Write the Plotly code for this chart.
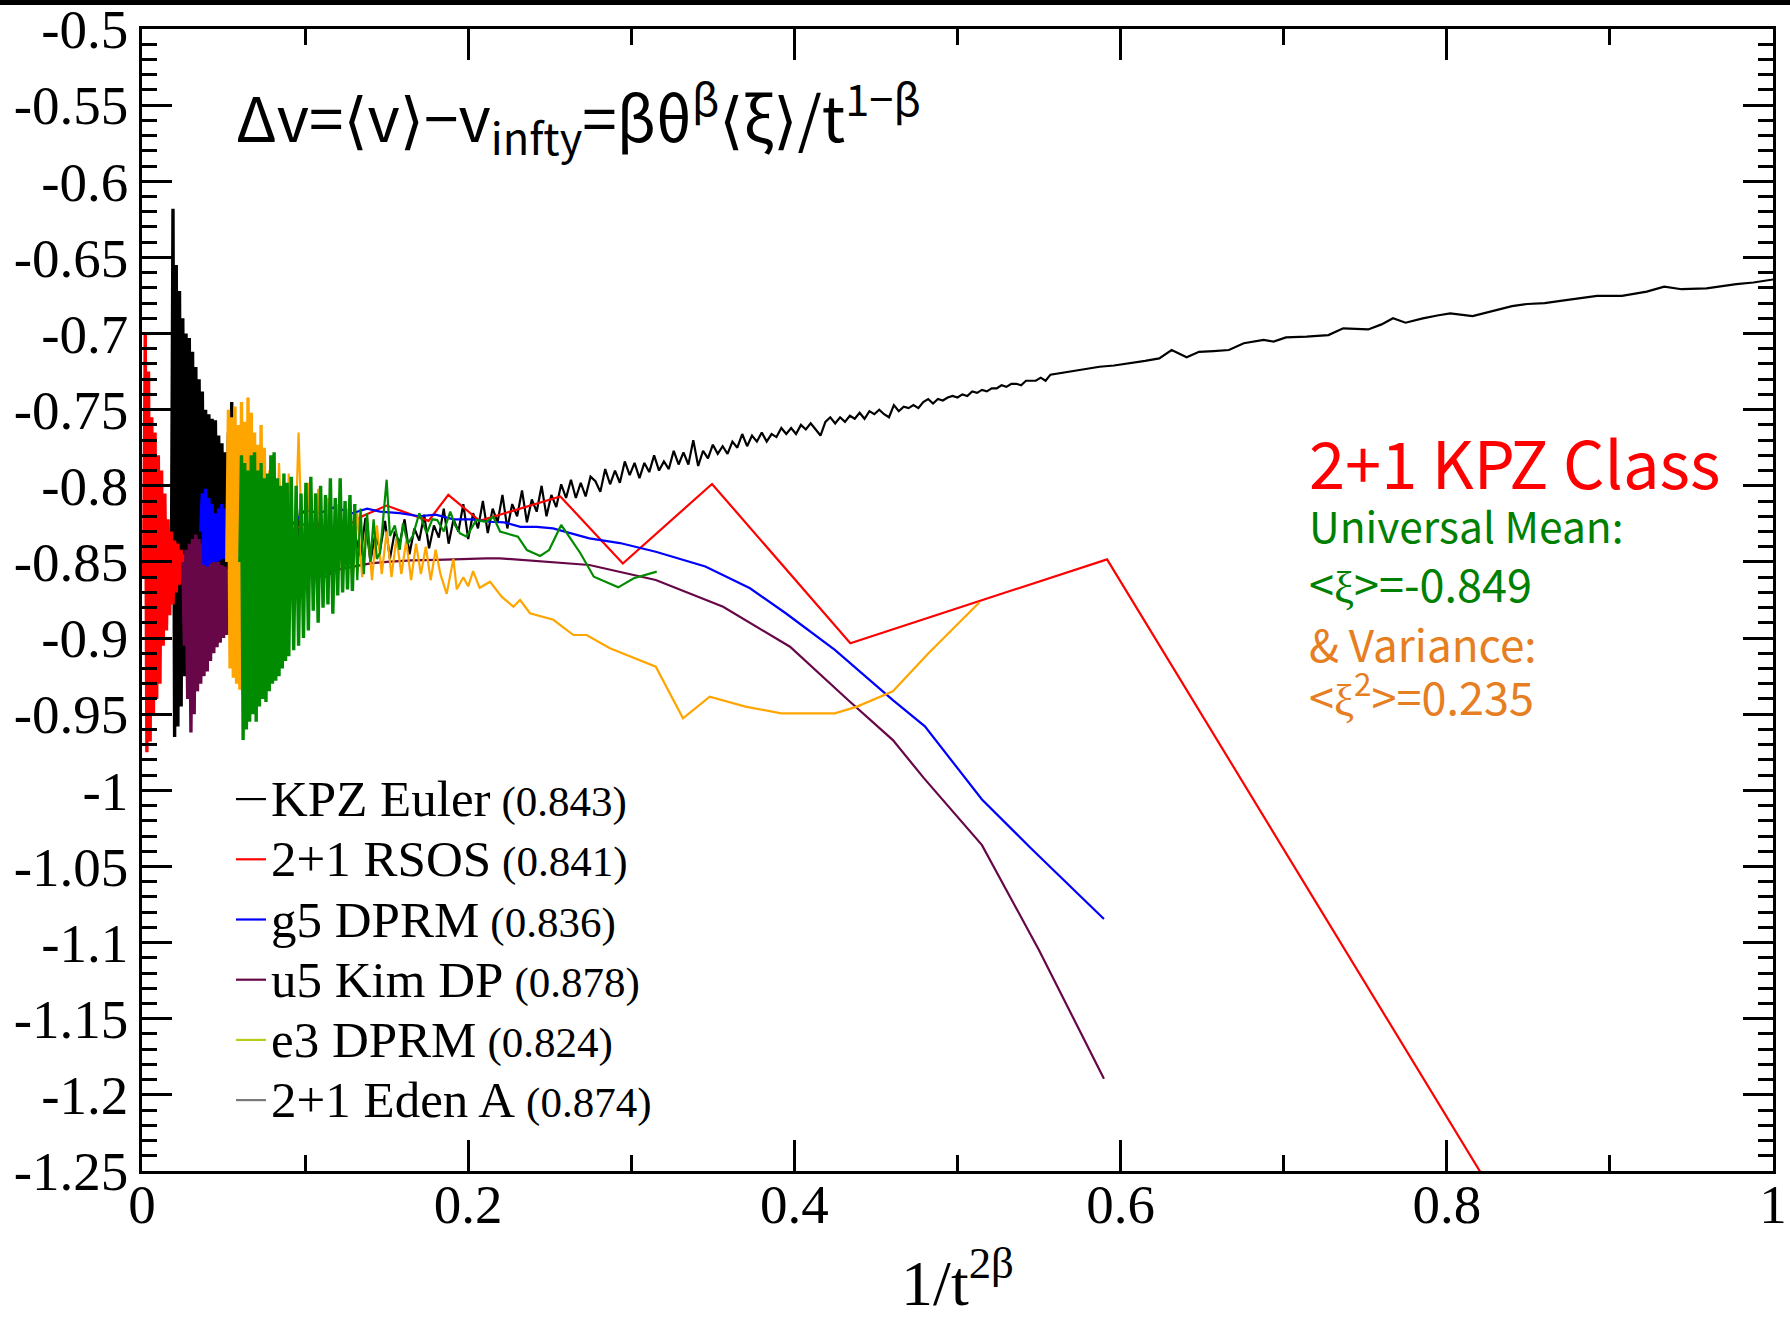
import plotly.graph_objects as go

# ---------------- data ----------------
x_tick_vals = [0, 0.2, 0.4, 0.6, 0.8, 1.0]
x_tick_text = ["0", "0.2", "0.4", "0.6", "0.8", "1"]
y_tick_vals = [-1.25, -1.2, -1.15, -1.1, -1.05, -1.0, -0.95, -0.9, -0.85, -0.8,
               -0.75, -0.7, -0.65, -0.6, -0.55, -0.5]
y_tick_text = ["-1.25", "-1.2", "-1.15", "-1.1", "-1.05", "-1", "-0.95", "-0.9",
               "-0.85", "-0.8", "-0.75", "-0.7", "-0.65", "-0.6", "-0.55", "-0.5"]

series_names = ["KPZ Euler", "2+1 RSOS", "g5 DPRM", "u5 Kim DP", "e3 DPRM", "2+1 Eden A"]
series_exponents = ["(0.843)", "(0.841)", "(0.836)", "(0.878)", "(0.824)", "(0.874)"]

# KPZ Euler (black)
euler_x = [0.018, 0.019, 0.020, 0.021, 0.022, 0.023, 0.024, 0.025, 0.026, 0.027,
           0.028, 0.029, 0.030, 0.031, 0.032, 0.033, 0.034, 0.035, 0.036, 0.037,
           0.038, 0.039, 0.040, 0.041, 0.042, 0.043, 0.044, 0.045, 0.046, 0.047,
           0.048, 0.049, 0.050, 0.051, 0.052, 0.053, 0.054, 0.055, 0.056,
           0.059, 0.062, 0.065, 0.068, 0.071, 0.074, 0.077, 0.080, 0.083, 0.086,
           0.089, 0.092, 0.095, 0.098, 0.101, 0.104, 0.107, 0.110, 0.113, 0.116,
           0.119, 0.122, 0.125, 0.128, 0.131, 0.134, 0.137, 0.140, 0.143, 0.146,
           0.149, 0.152, 0.155, 0.158, 0.161, 0.164, 0.167, 0.170, 0.173, 0.176,
           0.179, 0.182, 0.185, 0.188, 0.191, 0.194, 0.197, 0.200, 0.203, 0.206,
           0.209, 0.212, 0.215, 0.218, 0.221, 0.224, 0.227, 0.230, 0.233, 0.236,
           0.239, 0.242, 0.245, 0.248, 0.251,
           0.254, 0.257, 0.260, 0.263, 0.266, 0.269, 0.272, 0.275, 0.278, 0.281,
           0.284, 0.287, 0.290, 0.293, 0.296, 0.299, 0.302, 0.305, 0.308, 0.311,
           0.314, 0.317, 0.320, 0.323, 0.326, 0.329, 0.332, 0.335, 0.338, 0.341,
           0.344, 0.347, 0.350, 0.353, 0.356, 0.359, 0.362, 0.365, 0.368, 0.371,
           0.374, 0.377, 0.380, 0.383, 0.386, 0.389, 0.392, 0.395, 0.398, 0.401,
           0.404, 0.407, 0.410, 0.413, 0.416, 0.419, 0.422, 0.425, 0.428, 0.431,
           0.434, 0.437, 0.440, 0.443, 0.446, 0.449, 0.452, 0.455, 0.458, 0.461,
           0.464, 0.467, 0.470, 0.473, 0.476, 0.479, 0.482, 0.485, 0.488, 0.491,
           0.494, 0.497, 0.500, 0.503, 0.506, 0.509, 0.512, 0.515, 0.518, 0.521,
           0.524, 0.527, 0.530, 0.533, 0.536, 0.539, 0.542, 0.545, 0.548, 0.551,
           0.554, 0.557,
           0.5627, 0.575, 0.5871, 0.596, 0.6054, 0.615, 0.6237, 0.6313, 0.6405, 0.6481,
           0.657, 0.6664, 0.6755, 0.6877, 0.6938, 0.7014, 0.714, 0.7274, 0.7365, 0.7518,
           0.760, 0.767, 0.7747, 0.7853, 0.795, 0.8021, 0.8158, 0.8311, 0.840, 0.8494,
           0.860, 0.8708, 0.882, 0.8921, 0.9074, 0.915, 0.9226, 0.9333, 0.944, 0.9592,
           0.968, 0.9775, 0.988, 1.0]
euler_y = [-0.870, -0.618, -0.965, -0.655, -0.958, -0.672, -0.945, -0.690, -0.925, -0.700,
           -0.915, -0.703, -0.910, -0.712, -0.905, -0.722, -0.900, -0.730, -0.897, -0.738,
           -0.893, -0.750, -0.890, -0.753, -0.886, -0.756, -0.882, -0.757, -0.878, -0.767,
           -0.875, -0.772, -0.872, -0.778, -0.868, -0.765, -0.866, -0.745, -0.862,
           -0.800, -0.878, -0.812, -0.860, -0.805, -0.872, -0.830, -0.858, -0.812, -0.866,
           -0.825, -0.850, -0.815, -0.862, -0.828, -0.855, -0.818, -0.848, -0.830, -0.858,
           -0.822, -0.845, -0.826, -0.852, -0.834, -0.846, -0.821, -0.850, -0.832, -0.842,
           -0.823, -0.848, -0.830, -0.838, -0.822, -0.845, -0.828, -0.836, -0.819, -0.841,
           -0.826, -0.834, -0.815, -0.838, -0.822, -0.830, -0.812, -0.835, -0.818, -0.828,
           -0.810, -0.831, -0.815, -0.824, -0.806, -0.828, -0.812, -0.820, -0.803, -0.824,
           -0.809, -0.817, -0.800, -0.820, -0.806,
           -0.814, -0.799, -0.808, -0.796, -0.808, -0.798, -0.807, -0.794, -0.797, -0.804,
           -0.789, -0.799, -0.790, -0.798, -0.784, -0.793, -0.785, -0.795, -0.785, -0.791,
           -0.780, -0.790, -0.784, -0.789, -0.777, -0.786, -0.778, -0.786, -0.770, -0.787,
           -0.777, -0.782, -0.773, -0.779, -0.774, -0.779, -0.771, -0.775, -0.766, -0.774,
           -0.767, -0.771, -0.765, -0.771, -0.766, -0.768, -0.762, -0.766, -0.762, -0.766,
           -0.760, -0.763, -0.759, -0.763, -0.767, -0.758, -0.755, -0.759, -0.755, -0.758,
           -0.754, -0.756, -0.752, -0.756, -0.751, -0.753, -0.750, -0.753, -0.755, -0.747,
           -0.751, -0.748, -0.749, -0.747, -0.749, -0.745, -0.743, -0.746, -0.743, -0.744,
           -0.742, -0.741, -0.742, -0.740, -0.741, -0.738, -0.739, -0.737, -0.738, -0.736,
           -0.736, -0.734, -0.735, -0.733, -0.733, -0.734, -0.731, -0.731, -0.731, -0.729,
           -0.731, -0.727,
           -0.7261, -0.724, -0.7218, -0.721, -0.7196, -0.718, -0.7163, -0.7108, -0.7156, -0.712,
           -0.7115, -0.7108, -0.7064, -0.7042, -0.7053, -0.7025, -0.702, -0.701, -0.6966, -0.6973,
           -0.694, -0.690, -0.6929, -0.690, -0.688, -0.6868, -0.6885, -0.6845, -0.682, -0.6806,
           -0.680, -0.6784, -0.677, -0.6753, -0.6753, -0.674, -0.6725, -0.6692, -0.6709, -0.6703,
           -0.669, -0.6675, -0.6665, -0.6645]

# 2+1 RSOS (red)
rsos_x = [0.001, 0.002, 0.003, 0.004, 0.005, 0.006, 0.007, 0.008, 0.009, 0.010,
          0.011, 0.012, 0.013, 0.014, 0.015, 0.016, 0.017, 0.018, 0.019, 0.020,
          0.021, 0.022, 0.023, 0.024, 0.025, 0.026, 0.027, 0.028, 0.029, 0.030,
          0.031, 0.032, 0.040, 0.060, 0.080, 0.100, 0.120, 0.135, 0.150, 0.1757,
          0.1878, 0.207, 0.2565, 0.2948, 0.3495, 0.4343, 0.5917, 0.86]
rsos_y = [-0.860, -0.700, -0.975, -0.725, -0.968, -0.755, -0.950, -0.765, -0.940, -0.780,
          -0.930, -0.790, -0.905, -0.805, -0.895, -0.822, -0.885, -0.830, -0.878, -0.836,
          -0.870, -0.838, -0.865, -0.842, -0.860, -0.845, -0.858, -0.846, -0.856, -0.848,
          -0.854, -0.850, -0.840, -0.830, -0.835, -0.825, -0.830, -0.820, -0.813, -0.823,
          -0.806, -0.823, -0.807, -0.851, -0.7988, -0.9034, -0.8483, -1.32]

# u5 Kim DP (maroon)
kim_x = [0.025, 0.026, 0.027, 0.028, 0.029, 0.030, 0.031, 0.032, 0.033, 0.034,
         0.035, 0.036, 0.037, 0.038, 0.039, 0.040, 0.041, 0.042, 0.043, 0.044,
         0.045, 0.046, 0.047, 0.048, 0.049, 0.050, 0.051, 0.052, 0.053, 0.054,
         0.055, 0.056, 0.057, 0.065, 0.072, 0.080, 0.088, 0.096, 0.104, 0.112,
         0.120, 0.129, 0.140, 0.150, 0.165, 0.181, 0.196, 0.211, 0.2195, 0.2468,
         0.2743, 0.315, 0.3563, 0.3973, 0.4329, 0.4604, 0.4794, 0.515, 0.550, 0.5898]
kim_y = [-0.850, -0.905, -0.842, -0.940, -0.838, -0.962, -0.835, -0.950, -0.832, -0.935,
         -0.835, -0.930, -0.838, -0.925, -0.840, -0.922, -0.842, -0.915, -0.845, -0.910,
         -0.848, -0.906, -0.850, -0.903, -0.852, -0.900, -0.853, -0.898, -0.855, -0.890,
         -0.856, -0.884, -0.857, -0.875, -0.862, -0.870, -0.860, -0.866, -0.857, -0.860,
         -0.855, -0.853, -0.851, -0.850, -0.849, -0.8487, -0.848, -0.8476, -0.8476, -0.8498,
         -0.852, -0.8619, -0.8794, -0.9057, -0.9407, -0.967, -0.992, -1.036, -1.105, -1.1894]

# g5 DPRM (blue)
g5_x = [0.036, 0.037, 0.038, 0.039, 0.040, 0.041, 0.042, 0.043, 0.044, 0.045,
        0.046, 0.047, 0.048, 0.049, 0.050, 0.051, 0.052, 0.053, 0.054, 0.055,
        0.056, 0.060, 0.070, 0.080, 0.090, 0.100, 0.109, 0.118, 0.129, 0.138,
        0.146, 0.158, 0.170, 0.180, 0.191, 0.202, 0.213, 0.222, 0.232, 0.242,
        0.252, 0.2743, 0.293, 0.315, 0.3454, 0.3728, 0.3947, 0.4248, 0.4604, 0.480,
        0.515, 0.545, 0.5898]
g5_y = [-0.830, -0.805, -0.852, -0.802, -0.853, -0.808, -0.851, -0.812, -0.850, -0.818,
        -0.850, -0.815, -0.849, -0.812, -0.848, -0.815, -0.847, -0.818, -0.846, -0.817,
        -0.845, -0.825, -0.832, -0.822, -0.828, -0.816, -0.818, -0.814, -0.818, -0.815,
        -0.817, -0.818, -0.820, -0.819, -0.822, -0.822, -0.8236, -0.824, -0.827, -0.827,
        -0.828, -0.8345, -0.8376, -0.8433, -0.853, -0.8673, -0.8837, -0.9078, -0.9407, -0.958,
        -1.006, -1.038, -1.0845]

# e3 DPRM (orange line)
e3_x = [0.052, 0.053, 0.054, 0.055, 0.056, 0.057, 0.058, 0.059, 0.060, 0.061,
        0.062, 0.063, 0.064, 0.065, 0.066, 0.067, 0.068, 0.069, 0.070, 0.071,
        0.072, 0.073, 0.074, 0.075, 0.076, 0.078, 0.081, 0.084, 0.087, 0.090,
        0.093, 0.096, 0.099, 0.102, 0.105, 0.108, 0.111, 0.114, 0.117, 0.120,
        0.123, 0.126, 0.129, 0.132, 0.135, 0.138, 0.141, 0.144, 0.147, 0.150,
        0.153, 0.156, 0.159, 0.162, 0.165, 0.168, 0.171, 0.174, 0.177, 0.180,
        0.183, 0.1868, 0.1909, 0.193, 0.197, 0.200, 0.203, 0.207, 0.2134, 0.2205,
        0.2277, 0.2318, 0.2379, 0.2522, 0.2645, 0.2726, 0.2869, 0.2989, 0.315, 0.3317,
        0.3481, 0.370, 0.3918, 0.4248, 0.4384, 0.4604, 0.4822, 0.5135]
e3_y = [-0.850, -0.750, -0.920, -0.755, -0.926, -0.748, -0.930, -0.760, -0.934, -0.745,
        -0.937, -0.758, -0.930, -0.742, -0.920, -0.752, -0.915, -0.765, -0.910, -0.773,
        -0.905, -0.760, -0.900, -0.775, -0.895, -0.790, -0.878, -0.785, -0.874, -0.792,
        -0.870, -0.765, -0.872, -0.798, -0.868, -0.802, -0.866, -0.808, -0.864, -0.812,
        -0.862, -0.815, -0.863, -0.818, -0.860, -0.822, -0.862, -0.826, -0.858, -0.830,
        -0.860, -0.834, -0.858, -0.836, -0.862, -0.838, -0.858, -0.840, -0.862, -0.842,
        -0.858, -0.871, -0.848, -0.868, -0.860, -0.866, -0.856, -0.867, -0.863, -0.8728,
        -0.8794, -0.875, -0.8837, -0.888, -0.898, -0.898, -0.9067, -0.912, -0.9188, -0.9527,
        -0.9385, -0.945, -0.9494, -0.9494, -0.945, -0.935, -0.910, -0.8765]

# 2+1 Eden A (green line)
eden_x = [0.060, 0.061, 0.062, 0.063, 0.064, 0.065, 0.066, 0.067, 0.068, 0.069,
          0.070, 0.071, 0.072, 0.073, 0.074, 0.075, 0.076, 0.077, 0.078, 0.079,
          0.080, 0.081, 0.082, 0.083, 0.084, 0.085, 0.086, 0.087, 0.088, 0.089,
          0.090, 0.0915, 0.093, 0.0945, 0.096, 0.0975, 0.099, 0.1005, 0.102, 0.1035,
          0.105, 0.1065, 0.108, 0.1095, 0.111, 0.1125, 0.114, 0.1155, 0.117, 0.1185,
          0.120, 0.1215, 0.123, 0.1245, 0.126, 0.1275, 0.129, 0.1305, 0.132, 0.134,
          0.136, 0.138, 0.140, 0.142, 0.144, 0.146, 0.148, 0.150, 0.152, 0.155,
          0.158, 0.160, 0.163, 0.166, 0.170, 0.1746, 0.178, 0.181, 0.185, 0.189,
          0.192, 0.195, 0.199, 0.205, 0.211, 0.2154, 0.2195, 0.2305, 0.236, 0.2441,
          0.2496, 0.2570, 0.2688, 0.277, 0.292, 0.3015, 0.3156]
eden_y = [-0.850, -0.780, -0.967, -0.785, -0.960, -0.790, -0.955, -0.780, -0.950, -0.778,
          -0.955, -0.790, -0.945, -0.785, -0.940, -0.795, -0.942, -0.792, -0.935, -0.780,
          -0.930, -0.778, -0.928, -0.795, -0.925, -0.800, -0.920, -0.792, -0.915, -0.798,
          -0.912, -0.794, -0.908, -0.800, -0.905, -0.805, -0.900, -0.798, -0.895, -0.794,
          -0.882, -0.805, -0.890, -0.800, -0.880, -0.806, -0.878, -0.795, -0.884, -0.808,
          -0.872, -0.795, -0.870, -0.810, -0.868, -0.806, -0.869, -0.812, -0.862, -0.815,
          -0.858, -0.818, -0.850, -0.822, -0.848, -0.844, -0.820, -0.796, -0.833, -0.826,
          -0.842, -0.8246, -0.838, -0.833, -0.818, -0.8312, -0.822, -0.8225, -0.830, -0.817,
          -0.826, -0.8312, -0.8334, -0.8225, -0.8236, -0.8203, -0.830, -0.8334, -0.8422, -0.8461,
          -0.8422, -0.8257, -0.8443, -0.8597, -0.8667, -0.8607, -0.8564]

# colours
line_colors = {"euler": "#000000", "rsos": "#ff0000", "g5": "#0000ff", "kim": "#670748",
               "e3": "#ffa500", "eden": "#008b00"}
legend_colors = ["#000000", "#ff0000", "#0000ff", "#670748", "#b8cc1a", "#7a7a7a"]

# ---------------- figure ----------------
fig = go.Figure()
LW = 2.2        # normal line width
LW_DENSE = 3.4  # the early, densely oscillating part of each series


def legend_label(i):
    return ("<span style='font-size:51px'>" + series_names[i] + "</span> "
            "<span style='font-size:43px'>" + series_exponents[i] + "</span>")


def add_series(xs, ys, color, n_dense, idx, in_legend):
    # early dense oscillation (drawn slightly thicker so it reads as a solid band)
    fig.add_trace(go.Scatter(x=xs[:n_dense], y=ys[:n_dense], mode="lines", showlegend=False,
                             hoverinfo="skip", line=dict(color=color, width=LW_DENSE)))
    fig.add_trace(go.Scatter(x=xs[n_dense - 1:], y=ys[n_dense - 1:], mode="lines",
                             name=legend_label(idx), showlegend=in_legend, legendrank=idx + 1,
                             line=dict(color=color, width=LW)))


add_series(euler_x, euler_y, line_colors["euler"], 39, 0, True)
add_series(rsos_x, rsos_y, line_colors["rsos"], 32, 1, True)
add_series(kim_x, kim_y, line_colors["kim"], 33, 3, True)
add_series(g5_x, g5_y, line_colors["g5"], 21, 2, True)
add_series(e3_x, e3_y, line_colors["e3"], 25, 4, False)
add_series(eden_x, eden_y, line_colors["eden"], 58, 5, False)
# legend entries whose sample colour differs from the plotted line (as in the original)
fig.add_trace(go.Scatter(x=[None], y=[None], mode="lines", name=legend_label(4),
                         line=dict(color=legend_colors[4], width=LW), legendrank=5))
fig.add_trace(go.Scatter(x=[None], y=[None], mode="lines", name=legend_label(5),
                         line=dict(color=legend_colors[5], width=LW), legendrank=6))

serif = "Liberation Serif, Times New Roman, serif"
sans = "Noto Sans CJK JP, Noto Sans, DejaVu Sans, sans-serif"

fig.update_xaxes(
    range=[0, 1], showgrid=False, zeroline=False,
    showline=True, linecolor="black", linewidth=2.5, mirror="allticks",
    ticks="inside", ticklen=31, tickwidth=2.5, tickcolor="black",
    tickmode="array", tickvals=x_tick_vals, ticktext=x_tick_text,
    tickfont=dict(family=serif, size=55, color="black"), ticklabelstandoff=-17,
    ticklabeloverflow="allow",
    minor=dict(ticks="inside", ticklen=16, tickwidth=2.5, tickcolor="black",
               tickmode="linear", tick0=0, dtick=0.1),
    title=dict(text="1/t<sup>2β</sup>", font=dict(family=serif, size=64, color="black"),
               standoff=32),
)
fig.update_yaxes(
    range=[-1.25, -0.5], showgrid=False, zeroline=False,
    showline=True, linecolor="black", linewidth=2.5, mirror="allticks",
    ticks="inside", ticklen=30, tickwidth=2.5, tickcolor="black",
    tickmode="array", tickvals=y_tick_vals, ticktext=y_tick_text,
    tickfont=dict(family=serif, size=55, color="black"), ticklabelstandoff=0,
    ticklabeloverflow="allow",
    minor=dict(ticks="inside", ticklen=15, tickwidth=2.5, tickcolor="black",
               tickmode="linear", tick0=-1.25, dtick=0.01),
)

fig.update_layout(
    width=1790, height=1319,
    margin=dict(l=142, r=17, t=29, b=148, autoexpand=False),
    paper_bgcolor="white", plot_bgcolor="white",
    showlegend=True,
    legend=dict(x=(231 - 142) / 1631, y=(1171 - 764) / 1142, xanchor="left", yanchor="top",
                bgcolor="rgba(0,0,0,0)", borderwidth=0, tracegroupgap=0,
                font=dict(family=serif, size=44, color="black"), itemwidth=30),
    shapes=[dict(type="rect", xref="paper", yref="paper", x0=-0.2, x1=1.2, y0=1.021, y1=1.06,
                 fillcolor="black", line=dict(width=0), layer="above")],
)

ann = [
    dict(text="Δv=⟨v⟩−v<sub>infty</sub>=βθ<sup>β</sup>⟨ξ⟩/t<sup>1−β</sup>",
         x=(234 - 142) / 1631, y=(1171 - 117) / 1142, size=62, color="black"),
    dict(text="2+1 KPZ Class", x=(1307 - 142) / 1631, y=(1171 - 461) / 1142, size=65, color="#ff0000"),
    dict(text="Universal Mean:", x=(1307 - 142) / 1631, y=(1171 - 524) / 1142, size=42.5, color="#008000"),
    dict(text="&lt;<span style='font-family:Liberation Serif'>ξ</span>&gt;=-0.849",
         x=(1307 - 142) / 1631, y=(1171 - 582) / 1142, size=45, color="#008000"),
    dict(text="&amp; Variance:", x=(1307 - 142) / 1631, y=(1171 - 643) / 1142, size=44, color="#e67e22"),
    dict(text="&lt;<span style='font-family:Liberation Serif'>ξ</span><sup>2</sup>&gt;=0.235",
         x=(1307 - 142) / 1631, y=(1171 - 693) / 1142, size=45, color="#e67e22"),
]
for a in ann:
    fig.add_annotation(text=a["text"], x=a["x"], y=a["y"], xref="paper", yref="paper",
                       xanchor="left", yanchor="middle", showarrow=False,
                       font=dict(family=sans, size=a["size"], color=a["color"]))

fig.write_html("out.html", config={"displayModeBar": False},
               post_script="document.body.style.margin='0';document.body.style.overflow='hidden';")
